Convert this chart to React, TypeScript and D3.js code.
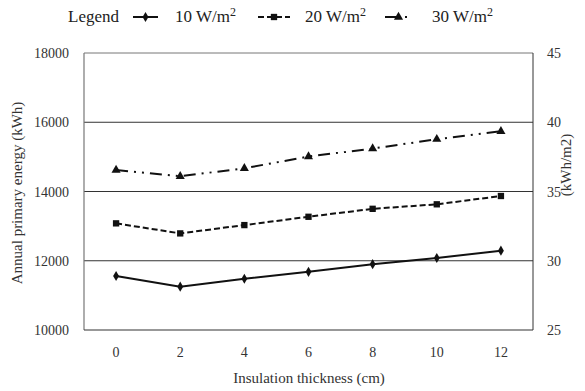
import * as d3 from "d3";

const thickness = ["0", "2", "4", "6", "8", "10", "12"];
const w10 = [11560, 11250, 11480, 11680, 11900, 12080, 12290];
const w20 = [13080, 12790, 13030, 13270, 13500, 13630, 13870];
const w30 = [14620, 14440, 14670, 15010, 15240, 15510, 15740];
const leftTicks = [10000, 12000, 14000, 16000, 18000];
const rightTicks = [25, 30, 35, 40, 45];

const SERIES = [
  { name: "10 W/m", values: w10, dash: undefined, symbol: d3.symbolDiamond, size: 30 },
  { name: "20 W/m", values: w20, dash: "6,3", symbol: d3.symbolSquare, size: 40 },
  { name: "30 W/m", values: w30, dash: "12,6,2,6,2,6", symbol: d3.symbolTriangle, size: 36 },
];

const LEGEND_POS = [
  { x0: 133, x1: 158, tx: 175 },
  { x0: 258, x1: 290, tx: 305 },
  { x0: 385, x1: 412, tx: 432 },
];

const FONT = "'Liberation Serif', serif";

export default function App() {
  const left = 84, right = 533, top = 53, bottom = 330;

  const x = d3.scaleBand().domain(thickness).range([left, right]);
  const y = d3.scaleLinear().domain([10000, 18000]).range([bottom, top]);
  const y2 = d3.scaleLinear().domain([25, 45]).range([bottom, top]);
  const cx = (d: string) => (x(d) ?? 0) + x.bandwidth() / 2;
  const line = d3.line<number>().x((_, i) => cx(thickness[i])).y((d) => y(d));

  const txt = { fontFamily: FONT, fontSize: 14 };
  const title = { fontFamily: FONT, fontSize: 15 };

  return (
    <div style={{ position: "fixed", left: 0, top: 0 }}>
      <svg width={585} height={391} style={{ display: "block", background: "#fff" }}>
        {/* gridlines */}
        {leftTicks.slice(1, -1).map((d) => (
          <line key={d} x1={left} x2={right} y1={y(d)} y2={y(d)} stroke="#333" />
        ))}
        {/* frame */}
        <line x1={left} x2={right} y1={top} y2={top} stroke="#777" />
        <line x1={left} x2={left} y1={top} y2={bottom} stroke="#777" strokeWidth={1.2} />
        <line x1={right} x2={right} y1={top} y2={bottom} stroke="#333" />
        <line x1={left} x2={right} y1={bottom} y2={bottom} stroke="#333" strokeWidth={1.2} />

        <g style={txt} fill="#333">
          {leftTicks.map((d) => (
            <text key={d} x={69} y={y(d) + 5} textAnchor="end">{d}</text>
          ))}
          {rightTicks.map((d) => (
            <text key={d} x={547} y={y2(d) + 5}>{d}</text>
          ))}
          {thickness.map((d) => (
            <text key={d} x={cx(d)} y={357} textAnchor="middle">{d}</text>
          ))}
        </g>
        <g style={title} fill="#333">
          <text x={309} y={383} textAnchor="middle">Insulation thickness (cm)</text>
          <text transform="translate(22,193) rotate(-90)" textAnchor="middle">Annual primary energy (kWh)</text>
          <text transform="translate(571,165) rotate(-90)" textAnchor="middle">(kWh/m2)</text>
        </g>

        {SERIES.map((s) => {
          const sym = d3.symbol().type(s.symbol).size(s.size);
          return (
            <g key={s.name}>
              <path d={line(s.values) ?? ""} fill="none" stroke="#111" strokeWidth={2} strokeDasharray={s.dash} />
              {s.values.map((v, i) => (
                <path key={i} transform={`translate(${cx(thickness[i])},${y(v)})`} d={sym() ?? ""} fill="#111" />
              ))}
            </g>
          );
        })}

        {/* legend */}
        <g style={{ fontFamily: FONT, fontSize: 17 }} fill="#222">
          <text x={68} y={22}>Legend</text>
          {SERIES.map((s, i) => {
            const it = LEGEND_POS[i];
            return (
              <g key={s.name}>
                <line x1={it.x0} x2={it.x1} y1={17} y2={17} stroke="#111" strokeWidth={2}
                  strokeDasharray={i === 2 ? "14,6,2,20" : s.dash} />
                <path transform={`translate(${(it.x0 + it.x1) / 2},17)`}
                  d={d3.symbol().type(s.symbol).size(s.size)() ?? ""} fill="#111" />
                <text x={it.tx} y={22}>
                  {s.name}
                  <tspan dy={-6} style={{ fontSize: 12 }}>2</tspan>
                </text>
              </g>
            );
          })}
        </g>
      </svg>
    </div>
  );
}
